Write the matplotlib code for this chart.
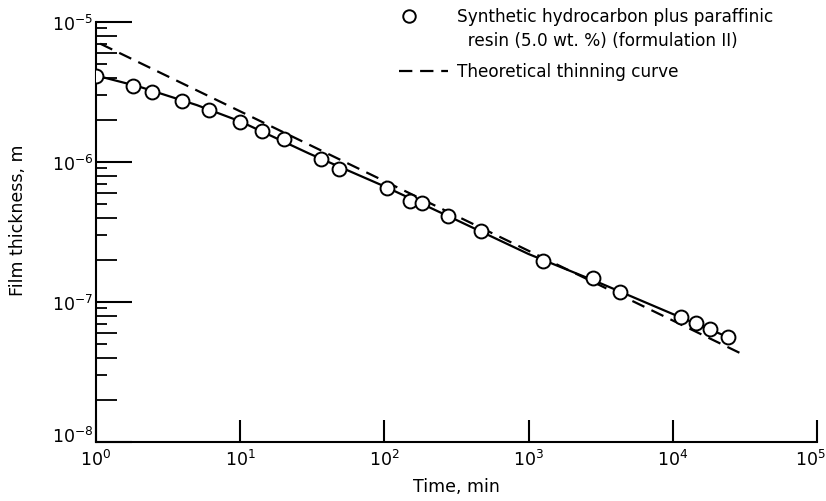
import matplotlib
matplotlib.use('Agg')
import matplotlib.pyplot as plt
import matplotlib.transforms as mtransforms
from matplotlib.ticker import NullFormatter, LogLocator, NullLocator

plt.rcParams['font.family'] = ['DejaVu Sans']
plt.rcParams['mathtext.default'] = 'regular'

# 实验数据点 (时间 min, 膜厚 m)
time_pts = [1.0, 1.81, 2.44, 3.95, 6.08, 10.0, 14.2, 20.1, 36.3, 48.4, 104, 151, 182,
            276, 468, 1259, 2797, 4305, 11400, 14500, 18100, 24100]
thick_pts = [4.11e-6, 3.49e-6, 3.16e-6, 2.73e-6, 2.35e-6, 1.93e-6, 1.66e-6, 1.46e-6,
             1.05e-6, 8.9e-7, 6.52e-7, 5.27e-7, 5.09e-7, 4.11e-7, 3.21e-7, 1.96e-7,
             1.48e-7, 1.18e-7, 7.82e-8, 7.08e-8, 6.41e-8, 5.62e-8]

# 拟合曲线 (实线)
fit_time = [1.0, 2.0, 5.0, 10, 30, 100, 300, 1000, 3000, 10000, 24100]
fit_thick = [4.15e-6, 3.45e-6, 2.55e-6, 1.95e-6, 1.15e-6, 6.7e-7, 3.95e-7, 2.2e-7,
             1.39e-7, 8.2e-8, 5.62e-8]

# 理论减薄曲线 (虚线)
theory_time = [1.07, 30200]
theory_thick = [7.0e-6, 4.25e-8]

x_ticks = [1e0, 1e1, 1e2, 1e3, 1e4, 1e5]
y_ticks = [1e-8, 1e-7, 1e-6, 1e-5]
x_lim = (1, 1e5)
y_lim = (1e-8, 1e-5)

legend_labels = ['Synthetic hydrocarbon plus paraffinic\n  resin (5.0 wt. %) (formulation II)',
                 'Theoretical thinning curve']

pos = [0.1162, 0.1175, 0.873, 0.8367]
fig = plt.figure(figsize=(8.26, 5.02), dpi=100)
ax = fig.add_axes(pos)

ax.plot(fit_time, fit_thick, color='black', lw=1.6, zorder=2)
ax.plot(theory_time, theory_thick, color='black', lw=1.6, ls=(0, (6, 3.5)), zorder=2)
ax.plot(time_pts, thick_pts, 'o', ms=10, mfc='white', mec='black', mew=1.4, zorder=3)

ax.set_xscale('log')
ax.set_yscale('log')
ax.set_xlim(*x_lim)
ax.set_ylim(*y_lim)

for s in ['top', 'right']:
    ax.spines[s].set_visible(False)
for s in ['left', 'bottom']:
    ax.spines[s].set_linewidth(1.5)

ax.set_xticks(x_ticks)
ax.set_xticklabels(['$10^{%d}$' % i for i in range(6)])
ax.xaxis.set_minor_locator(NullLocator())
ax.tick_params(axis='x', which='major', direction='in', length=16, width=1.5, pad=5, labelsize=12.5)
# 最右边的 10^5 往左靠, 避免出界
last = ax.get_xticklabels()[-1]
last.set_horizontalalignment('right')
last.set_transform(last.get_transform() + mtransforms.ScaledTranslation(9 / 100, 0, fig.dpi_scale_trans))

ax.set_yticks(y_ticks)
ax.set_yticklabels(['$10^{%d}$' % i for i in range(-8, -4)])
ax.yaxis.set_minor_locator(LogLocator(base=10, subs=(2, 4, 6, 8)))
ax.yaxis.set_minor_formatter(NullFormatter())
ax.tick_params(axis='y', which='major', direction='in', length=26, width=1.5, pad=2, labelsize=12.5)
ax.tick_params(axis='y', which='minor', direction='in', length=15, width=1.3)
# 10^-8 稍微上移, 不和 10^0 重叠
first = ax.get_yticklabels()[0]
first.set_verticalalignment('bottom')
first.set_transform(first.get_transform() + mtransforms.ScaledTranslation(0, -4 / 100, fig.dpi_scale_trans))

# 短刻度 3,5,7,9 (叠加一个透明坐标轴)
ax2 = fig.add_axes(pos)
ax2.set_yscale('log')
ax2.set_ylim(*y_lim)
ax2.patch.set_visible(False)
for s in ax2.spines.values():
    s.set_visible(False)
ax2.set_xticks([])
ax2.yaxis.set_major_locator(NullLocator())
ax2.yaxis.set_minor_locator(LogLocator(base=10, subs=(3, 5, 7, 9)))
ax2.yaxis.set_minor_formatter(NullFormatter())
ax2.tick_params(axis='y', which='minor', direction='in', length=8, width=1.3)

ax.set_xlabel('Time, min', fontsize=12.5, labelpad=6)
ax.set_ylabel('Film thickness, m', fontsize=12.5)
ax.yaxis.set_label_coords(-0.095, 0.53)

# 图例
ax.plot([0.434], [1.014], 'o', ms=9, mfc='white', mec='black', mew=1.4,
        transform=ax.transAxes, clip_on=False)
ax.text(0.501, 1.035, legend_labels[0], transform=ax.transAxes, fontsize=12.2,
        va='top', ha='left', linespacing=1.42)
ax.plot([0.42, 0.488], [0.883, 0.883], color='black', lw=1.6, ls=(0, (6, 3.5)),
        transform=ax.transAxes, clip_on=False)
ax.text(0.501, 0.883, legend_labels[1], transform=ax.transAxes, fontsize=12.2,
        va='center', ha='left')

fig.savefig('out.png', dpi=100)
